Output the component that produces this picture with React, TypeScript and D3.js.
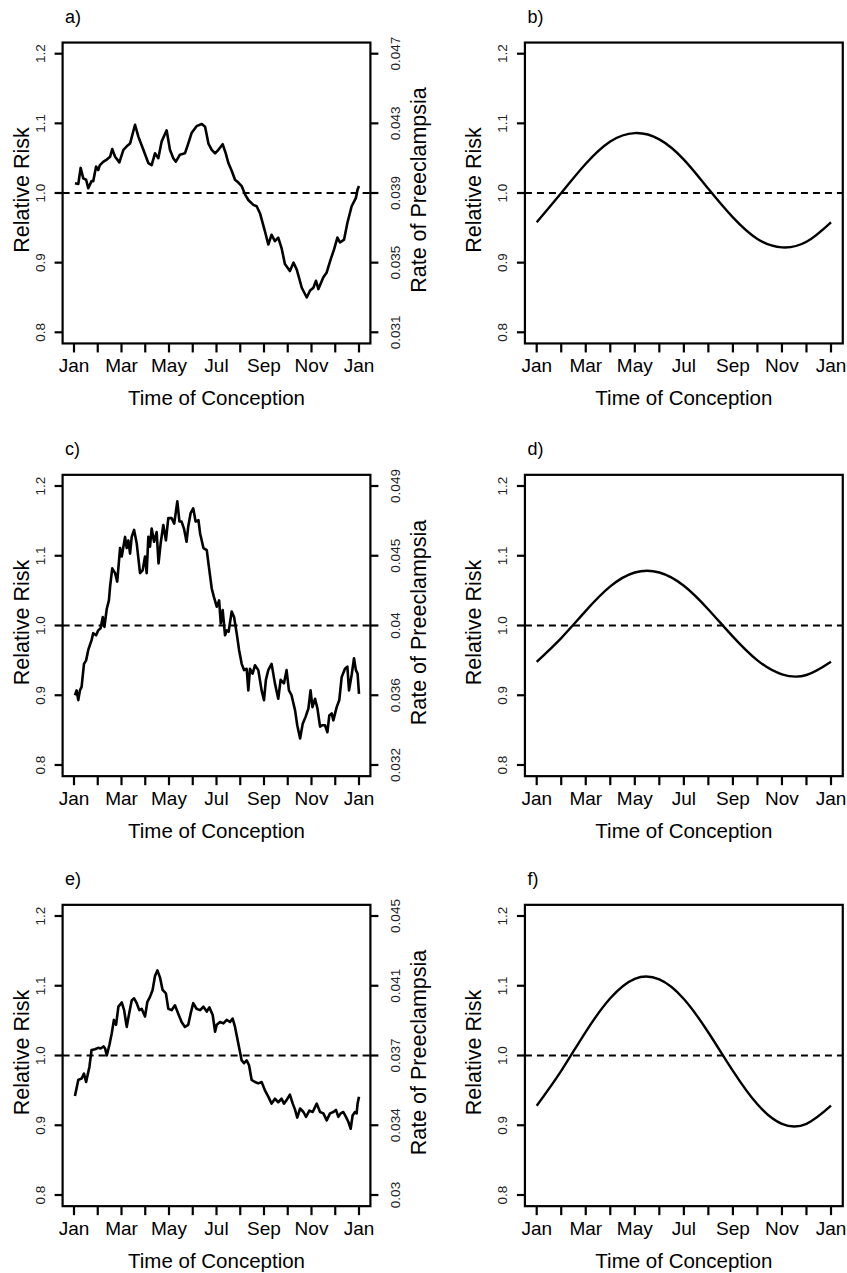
import React from 'react';
import * as d3 from 'd3';

// month index (0 = Jan, 12 = next Jan) and relative risk
const riskA: [number, number][] = [
  [0.04, 1.014], [0.18, 1.013], [0.28, 1.036], [0.39, 1.021], [0.51, 1.019], [0.6, 1.007],
  [0.74, 1.017], [0.81, 1.017], [0.93, 1.038], [1.02, 1.033], [1.09, 1.04], [1.24, 1.045],
  [1.38, 1.048], [1.52, 1.052], [1.61, 1.063], [1.73, 1.052], [1.91, 1.044], [2.08, 1.062],
  [2.22, 1.067], [2.36, 1.071], [2.57, 1.098], [2.71, 1.081], [2.92, 1.062], [3.13, 1.043],
  [3.27, 1.04], [3.41, 1.057], [3.55, 1.05], [3.69, 1.074], [3.9, 1.09], [4.04, 1.062],
  [4.18, 1.05], [4.29, 1.045], [4.46, 1.055], [4.67, 1.057], [4.81, 1.071], [4.95, 1.086],
  [5.16, 1.096], [5.38, 1.099], [5.52, 1.095], [5.66, 1.071], [5.8, 1.062], [5.94, 1.057],
  [6.08, 1.062], [6.26, 1.07], [6.39, 1.057], [6.5, 1.043], [6.64, 1.032], [6.78, 1.019],
  [6.92, 1.015], [7.06, 1.01], [7.2, 0.998], [7.34, 0.99], [7.55, 0.983], [7.69, 0.981],
  [7.83, 0.971], [8.04, 0.945], [8.18, 0.926], [8.32, 0.94], [8.46, 0.931], [8.6, 0.936],
  [8.74, 0.921], [8.88, 0.898], [9.09, 0.888], [9.24, 0.9], [9.38, 0.89], [9.59, 0.864],
  [9.8, 0.85], [9.94, 0.86], [10.08, 0.864], [10.19, 0.874], [10.29, 0.862], [10.5, 0.879],
  [10.64, 0.886], [10.81, 0.905], [10.95, 0.919], [11.09, 0.936], [11.2, 0.929], [11.37, 0.933],
  [11.51, 0.957], [11.69, 0.981], [11.87, 0.993], [11.94, 1.005], [12, 1.01],
];

const riskC: [number, number][] = [
  [0.04, 0.9], [0.11, 0.907], [0.18, 0.893], [0.25, 0.907], [0.32, 0.912], [0.42, 0.945],
  [0.51, 0.95], [0.6, 0.965], [0.74, 0.979], [0.81, 0.989], [0.93, 0.986], [1.02, 0.993],
  [1.12, 0.996], [1.21, 1.012], [1.28, 0.998], [1.38, 1.024], [1.47, 1.036], [1.52, 1.056],
  [1.61, 1.082], [1.73, 1.075], [1.82, 1.063], [1.94, 1.111], [2.01, 1.099], [2.15, 1.127],
  [2.22, 1.111], [2.29, 1.122], [2.36, 1.103], [2.43, 1.127], [2.53, 1.137], [2.64, 1.118],
  [2.78, 1.075], [2.89, 1.079], [2.99, 1.099], [3.06, 1.075], [3.13, 1.127], [3.2, 1.113],
  [3.27, 1.139], [3.37, 1.12], [3.48, 1.134], [3.56, 1.089], [3.65, 1.118], [3.76, 1.144],
  [3.87, 1.122], [3.97, 1.154], [4.11, 1.154], [4.22, 1.146], [4.35, 1.178], [4.44, 1.149],
  [4.53, 1.149], [4.63, 1.139], [4.74, 1.12], [4.81, 1.142], [4.91, 1.161], [5.02, 1.168],
  [5.12, 1.149], [5.24, 1.151], [5.31, 1.132], [5.45, 1.111], [5.59, 1.108], [5.68, 1.084],
  [5.8, 1.053], [5.89, 1.041], [6.01, 1.027], [6.11, 1.036], [6.18, 1.003], [6.26, 1.022],
  [6.36, 0.986], [6.43, 0.993], [6.51, 0.991], [6.64, 1.02], [6.74, 1.012], [6.85, 0.989],
  [6.95, 0.965], [7.06, 0.945], [7.16, 0.936], [7.27, 0.938], [7.34, 0.907], [7.41, 0.938],
  [7.52, 0.931], [7.62, 0.943], [7.76, 0.936], [7.9, 0.907], [8.0, 0.893], [8.08, 0.922],
  [8.18, 0.936], [8.32, 0.945], [8.46, 0.917], [8.6, 0.895], [8.7, 0.922], [8.84, 0.917],
  [8.95, 0.936], [9.05, 0.907], [9.16, 0.9], [9.31, 0.878], [9.4, 0.857], [9.52, 0.838],
  [9.63, 0.859], [9.75, 0.869], [9.87, 0.881], [9.96, 0.907], [10.04, 0.883], [10.15, 0.895],
  [10.25, 0.881], [10.36, 0.855], [10.46, 0.857], [10.57, 0.857], [10.67, 0.847], [10.75, 0.871],
  [10.85, 0.874], [10.92, 0.864], [11.06, 0.883], [11.17, 0.893], [11.27, 0.926], [11.41, 0.938],
  [11.51, 0.941], [11.58, 0.907], [11.69, 0.929], [11.79, 0.953], [11.87, 0.936], [11.94, 0.931],
  [12, 0.902],
];

const riskE: [number, number][] = [
  [0.04, 0.942], [0.18, 0.965], [0.32, 0.967], [0.42, 0.974], [0.51, 0.962], [0.65, 0.984],
  [0.74, 1.008], [0.88, 1.009], [1.02, 1.011], [1.12, 1.01], [1.24, 1.013], [1.31, 1.01],
  [1.38, 1.0], [1.49, 1.015], [1.59, 1.032], [1.68, 1.051], [1.77, 1.044], [1.87, 1.07],
  [2.01, 1.076], [2.11, 1.065], [2.22, 1.041], [2.32, 1.06], [2.43, 1.079], [2.53, 1.082],
  [2.64, 1.075], [2.75, 1.065], [2.85, 1.067], [2.99, 1.056], [3.09, 1.077], [3.2, 1.084],
  [3.31, 1.094], [3.41, 1.114], [3.51, 1.122], [3.62, 1.112], [3.73, 1.094], [3.87, 1.089],
  [3.97, 1.067], [4.11, 1.065], [4.25, 1.072], [4.39, 1.06], [4.53, 1.048], [4.67, 1.041],
  [4.81, 1.044], [4.91, 1.06], [5.02, 1.075], [5.16, 1.067], [5.31, 1.065], [5.45, 1.07],
  [5.59, 1.063], [5.7, 1.069], [5.84, 1.058], [5.94, 1.034], [6.01, 1.044], [6.15, 1.048],
  [6.29, 1.046], [6.43, 1.051], [6.57, 1.048], [6.68, 1.053], [6.78, 1.041], [6.92, 1.017],
  [7.06, 0.993], [7.16, 0.989], [7.27, 0.993], [7.37, 0.986], [7.48, 0.965], [7.62, 0.962],
  [7.76, 0.96], [7.9, 0.962], [8.04, 0.95], [8.18, 0.941], [8.32, 0.931], [8.46, 0.938],
  [8.6, 0.933], [8.74, 0.938], [8.84, 0.931], [8.95, 0.936], [9.09, 0.944], [9.21, 0.931],
  [9.31, 0.922], [9.4, 0.911], [9.52, 0.924], [9.66, 0.919], [9.77, 0.912], [9.91, 0.921],
  [10.05, 0.919], [10.22, 0.931], [10.36, 0.919], [10.5, 0.917], [10.64, 0.907], [10.78, 0.917],
  [10.92, 0.919], [11.03, 0.922], [11.13, 0.912], [11.23, 0.917], [11.34, 0.919], [11.45, 0.912],
  [11.55, 0.905], [11.65, 0.895], [11.73, 0.914], [11.83, 0.919], [11.9, 0.917], [11.94, 0.931],
  [12, 0.941],
];

// smooth fits, one value per month Jan..Jan
const fitB = [0.958, 1.0, 1.042, 1.074, 1.086, 1.077, 1.048, 1.006, 0.965, 0.934, 0.922, 0.93, 0.958];
const fitD = [0.948, 0.982, 1.021, 1.056, 1.076, 1.076, 1.057, 1.023, 0.984, 0.95, 0.93, 0.929, 0.948];
const fitF = [0.928, 0.978, 1.034, 1.082, 1.11, 1.109, 1.081, 1.033, 0.978, 0.93, 0.902, 0.902, 0.928];

const monthLabels = ['Jan', 'Mar', 'May', 'Jul', 'Sep', 'Nov', 'Jan'];
const riskTicks = [0.8, 0.9, 1.0, 1.1, 1.2];
const rateTicksA = ['0.031', '0.035', '0.039', '0.043', '0.047'];
const rateTicksC = ['0.032', '0.036', '0.04', '0.045', '0.049'];
const rateTicksE = ['0.03', '0.034', '0.037', '0.041', '0.045'];

const FONT = '"Liberation Sans", Arial, Helvetica, sans-serif';

const cols = [
  { range: [74, 359], titleGap: 34 },
  { range: [536.7, 831], titleGap: 44 },
];
const rows = [
  [332.3, 53.7],
  [765, 486],
  [1195, 916],
];

type PanelProps = {
  letter: string;
  col: number;
  row: number;
  points: [number, number][];
  smooth?: boolean;
  rateTicks?: string[];
};

const Panel = ({ letter, col, row, points, smooth, rateTicks }: PanelProps) => {
  const c = cols[col];
  const x = d3.scaleLinear().domain([0, 12]).range(c.range);
  const y = d3.scaleLinear().domain([0.8, 1.2]).range(rows[row]);
  // R-style 4% padding around the data range
  const left = x(-0.48);
  const right = x(12.48);
  const top = y(1.216);
  const bottom = y(0.784);
  const cx = (left + right) / 2;
  const cy = (top + bottom) / 2;

  const line = d3
    .line<[number, number]>()
    .x(d => x(d[0]))
    .y(d => y(d[1]))
    .curve(smooth ? d3.curveNatural : d3.curveLinear);

  return (
    <g fontFamily={FONT} fill="#000">
      <text x={left + 2.5} y={top - 20} fontSize={18}>{letter}</text>

      <line x1={left} x2={right} y1={y(1)} y2={y(1)} stroke="#000" strokeWidth={2} strokeDasharray="7,5" />
      <path d={line(points) || ''} fill="none" stroke="#000" strokeWidth={smooth ? 2.4 : 2.6} strokeLinejoin="round" />
      <rect x={left} y={top} width={right - left} height={bottom - top} fill="none" stroke="#000" strokeWidth={2.2} />

      {d3.range(13).map(m => (
        <line key={`xt${m}`} x1={x(m)} x2={x(m)} y1={bottom} y2={bottom + 9} stroke="#000" strokeWidth={2.2} />
      ))}
      {monthLabels.map((lab, i) => (
        <text key={`xl${i}`} x={x(i * 2)} y={bottom + 29} fontSize={19} textAnchor="middle">{lab}</text>
      ))}
      <text x={cx} y={bottom + 62} fontSize={20.5} textAnchor="middle">Time of Conception</text>

      {riskTicks.map(t => (
        <g key={`yt${t}`}>
          <line x1={left - 8} x2={left} y1={y(t)} y2={y(t)} stroke="#000" strokeWidth={2.2} />
          <text transform={`translate(${left - 17.8},${y(t)}) rotate(-90)`} fontSize={13.5} textAnchor="middle" fill="#222">
            {t.toFixed(1)}
          </text>
        </g>
      ))}
      <text transform={`translate(${left - c.titleGap},${cy - 3}) rotate(-90)`} fontSize={21.5} textAnchor="middle">
        Relative Risk
      </text>

      {rateTicks && (
        <g>
          {riskTicks.map((t, i) => (
            <g key={`rt${t}`}>
              <line x1={right} x2={right + 8} y1={y(t)} y2={y(t)} stroke="#000" strokeWidth={2.2} />
              <text transform={`translate(${right + 29.6},${y(t)}) rotate(-90)`} fontSize={13.5} textAnchor="middle" fill="#222">
                {rateTicks[i]}
              </text>
            </g>
          ))}
          <text transform={`translate(${right + 56},${cy - 3}) rotate(-90)`} fontSize={21.5} textAnchor="middle">
            Rate of Preeclampsia
          </text>
        </g>
      )}
    </g>
  );
};

const monthly = (vals: number[]): [number, number][] => vals.map((v, i) => [i, v]);

export default function App() {
  return (
    <svg
      width={847}
      height={1273}
      style={{ position: 'absolute', left: 0, top: 0, display: 'block', background: '#fff' }}
    >
      <Panel letter="a)" col={0} row={0} points={riskA} rateTicks={rateTicksA} />
      <Panel letter="b)" col={1} row={0} points={monthly(fitB)} smooth />
      <Panel letter="c)" col={0} row={1} points={riskC} rateTicks={rateTicksC} />
      <Panel letter="d)" col={1} row={1} points={monthly(fitD)} smooth />
      <Panel letter="e)" col={0} row={2} points={riskE} rateTicks={rateTicksE} />
      <Panel letter="f)" col={1} row={2} points={monthly(fitF)} smooth />
    </svg>
  );
}
